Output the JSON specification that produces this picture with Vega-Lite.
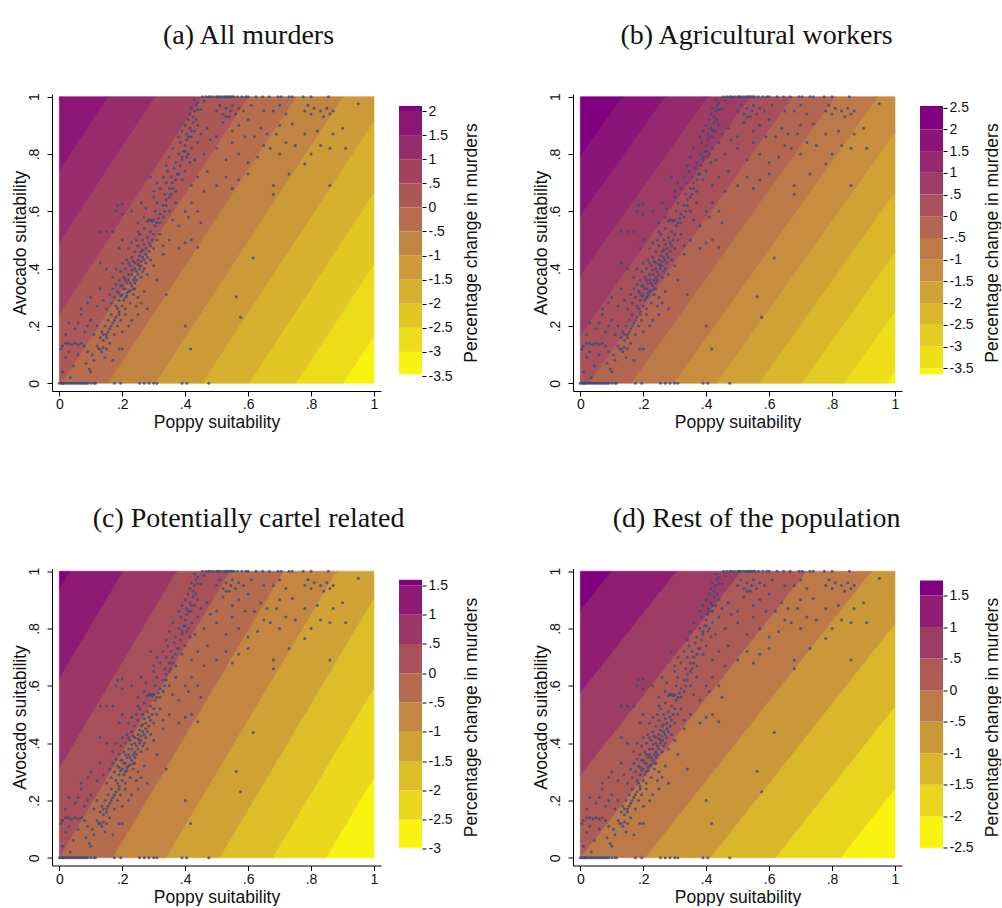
{
  "$schema": "https://vega.github.io/schema/vega-lite/v6.json",
  "padding": {"left": 11, "top": 21, "right": 0, "bottom": 0},
  "autosize": {"type": "pad"},
  "background": "white",
  "config": {
    "view": {"stroke": null},
    "axis": {"domainColor": "#000", "tickColor": "#000", "labelColor": "#111", "titleColor": "#111", "labelFont": "Liberation Sans", "titleFont": "Liberation Sans", "titleFontWeight": "normal", "labelFontSize": 14, "titleFontSize": 17.5, "grid": false},
    "title": {"font": "Liberation Serif", "fontSize": 28, "fontWeight": "normal", "color": "#111", "anchor": "middle"}
  },
  "datasets": {
    "pts": [
      {"x":0,"y":0},{"x":0.005,"y":0},{"x":0.01,"y":0},{"x":0.012,"y":0},{"x":0.015,"y":0},{"x":0.02,"y":0},{"x":0.025,"y":0},{"x":0.03,"y":0},{"x":0.035,"y":0},{"x":0.04,"y":0},{"x":0.045,"y":0},{"x":0.05,"y":0},{"x":0.055,"y":0},{"x":0.06,"y":0},{"x":0.065,"y":0},{"x":0.07,"y":0},{"x":0.075,"y":0},{"x":0.08,"y":0},{"x":0.085,"y":0},{"x":0.09,"y":0},{"x":0.1,"y":0},{"x":0.11,"y":0},{"x":0.115,"y":0},{"x":0.175,"y":0},{"x":0.195,"y":0},{"x":0.255,"y":0},{"x":0.27,"y":0},{"x":0.285,"y":0},{"x":0.3,"y":0},{"x":0.31,"y":0},{"x":0.39,"y":0},{"x":0.405,"y":0},{"x":0.475,"y":0},
      {"x":0.01,"y":0.04},{"x":0.02,"y":0.09},{"x":0.005,"y":0.12},{"x":0.01,"y":0.13},{"x":0.02,"y":0.14},{"x":0.03,"y":0.14},{"x":0.04,"y":0.135},{"x":0.05,"y":0.14},{"x":0.06,"y":0.135},{"x":0.07,"y":0.14},{"x":0.08,"y":0.13},{"x":0.03,"y":0.11},{"x":0.045,"y":0.06},{"x":0.06,"y":0.1},{"x":0.085,"y":0.07},{"x":0.095,"y":0.05},{"x":0.1,"y":0.04},{"x":0.09,"y":0.11},{"x":0.11,"y":0.08},{"x":0.12,"y":0.13},{"x":0.125,"y":0.12},{"x":0.13,"y":0.12},{"x":0.135,"y":0.11},{"x":0.14,"y":0.125},{"x":0.15,"y":0.12},{"x":0.145,"y":0.09},{"x":0.17,"y":0.08},{"x":0.19,"y":0.12},{"x":0.2,"y":0.12},{"x":0.16,"y":0.14},{"x":0.035,"y":0.02},{"x":0.105,"y":0.1},
      {"x":0.02,"y":0.17},{"x":0.05,"y":0.19},{"x":0.06,"y":0.21},{"x":0.08,"y":0.18},{"x":0.09,"y":0.2},{"x":0.1,"y":0.22},{"x":0.11,"y":0.17},{"x":0.13,"y":0.16},{"x":0.135,"y":0.18},{"x":0.14,"y":0.15},{"x":0.145,"y":0.2},{"x":0.15,"y":0.17},{"x":0.155,"y":0.22},{"x":0.16,"y":0.19},{"x":0.165,"y":0.24},{"x":0.17,"y":0.21},{"x":0.175,"y":0.17},{"x":0.18,"y":0.23},{"x":0.185,"y":0.2},{"x":0.19,"y":0.25},{"x":0.195,"y":0.22},{"x":0.2,"y":0.18},{"x":0.21,"y":0.24},{"x":0.22,"y":0.2},{"x":0.23,"y":0.22},{"x":0.25,"y":0.24},{"x":0.4,"y":0.2},{"x":0.12,"y":0.2},{"x":0.07,"y":0.24},{"x":0.03,"y":0.21},
      {"x":0.07,"y":0.26},{"x":0.09,"y":0.28},{"x":0.1,"y":0.3},{"x":0.12,"y":0.27},{"x":0.14,"y":0.29},{"x":0.15,"y":0.26},{"x":0.16,"y":0.31},{"x":0.165,"y":0.28},{"x":0.17,"y":0.33},{"x":0.175,"y":0.3},{"x":0.18,"y":0.27},{"x":0.185,"y":0.32},{"x":0.19,"y":0.29},{"x":0.195,"y":0.34},{"x":0.2,"y":0.31},{"x":0.2,"y":0.27},{"x":0.205,"y":0.33},{"x":0.21,"y":0.3},{"x":0.215,"y":0.35},{"x":0.22,"y":0.32},{"x":0.225,"y":0.28},{"x":0.23,"y":0.34},{"x":0.235,"y":0.31},{"x":0.24,"y":0.33},{"x":0.245,"y":0.27},{"x":0.25,"y":0.3},{"x":0.26,"y":0.28},{"x":0.27,"y":0.32},{"x":0.28,"y":0.26},{"x":0.34,"y":0.31},{"x":0.13,"y":0.33},{"x":0.18,"y":0.345},{"x":0.21,"y":0.26},{"x":0.19,"y":0.315},{"x":0.215,"y":0.305},{"x":0.225,"y":0.325},
      {"x":0.13,"y":0.42},{"x":0.17,"y":0.37},{"x":0.18,"y":0.4},{"x":0.19,"y":0.36},{"x":0.195,"y":0.39},{"x":0.2,"y":0.42},{"x":0.205,"y":0.37},{"x":0.21,"y":0.4},{"x":0.215,"y":0.43},{"x":0.22,"y":0.38},{"x":0.225,"y":0.41},{"x":0.23,"y":0.44},{"x":0.235,"y":0.36},{"x":0.24,"y":0.42},{"x":0.245,"y":0.39},{"x":0.25,"y":0.43},{"x":0.255,"y":0.41},{"x":0.26,"y":0.37},{"x":0.265,"y":0.44},{"x":0.27,"y":0.4},{"x":0.275,"y":0.42},{"x":0.28,"y":0.38},{"x":0.29,"y":0.43},{"x":0.3,"y":0.41},{"x":0.31,"y":0.36},{"x":0.33,"y":0.45},{"x":0.22,"y":0.42},{"x":0.235,"y":0.425},{"x":0.25,"y":0.415},{"x":0.26,"y":0.425},{"x":0.23,"y":0.395},{"x":0.21,"y":0.36},{"x":0.24,"y":0.37},{"x":0.15,"y":0.4},
      {"x":0.13,"y":0.53},{"x":0.15,"y":0.53},{"x":0.17,"y":0.53},{"x":0.2,"y":0.5},{"x":0.22,"y":0.47},{"x":0.23,"y":0.49},{"x":0.24,"y":0.46},{"x":0.245,"y":0.5},{"x":0.25,"y":0.48},{"x":0.255,"y":0.52},{"x":0.26,"y":0.46},{"x":0.265,"y":0.5},{"x":0.27,"y":0.54},{"x":0.275,"y":0.47},{"x":0.28,"y":0.51},{"x":0.285,"y":0.49},{"x":0.29,"y":0.53},{"x":0.3,"y":0.47},{"x":0.31,"y":0.5},{"x":0.32,"y":0.52},{"x":0.33,"y":0.48},{"x":0.35,"y":0.5},{"x":0.38,"y":0.47},{"x":0.4,"y":0.49},{"x":0.42,"y":0.5},{"x":0.44,"y":0.475},{"x":0.19,"y":0.47},{"x":0.25,"y":0.53},{"x":0.27,"y":0.485},
      {"x":0.18,"y":0.6},{"x":0.185,"y":0.62},{"x":0.2,"y":0.59},{"x":0.2,"y":0.625},{"x":0.25,"y":0.56},{"x":0.27,"y":0.58},{"x":0.275,"y":0.61},{"x":0.28,"y":0.565},{"x":0.285,"y":0.57},{"x":0.29,"y":0.57},{"x":0.295,"y":0.565},{"x":0.3,"y":0.57},{"x":0.305,"y":0.6},{"x":0.31,"y":0.63},{"x":0.32,"y":0.59},{"x":0.33,"y":0.62},{"x":0.34,"y":0.64},{"x":0.35,"y":0.6},{"x":0.36,"y":0.57},{"x":0.37,"y":0.63},{"x":0.38,"y":0.55},{"x":0.4,"y":0.6},{"x":0.41,"y":0.58},{"x":0.42,"y":0.63},{"x":0.44,"y":0.6},{"x":0.45,"y":0.56},{"x":0.23,"y":0.6},{"x":0.26,"y":0.63},{"x":0.3,"y":0.65},
      {"x":0.3,"y":0.67},{"x":0.31,"y":0.7},{"x":0.32,"y":0.68},{"x":0.33,"y":0.72},{"x":0.335,"y":0.66},{"x":0.34,"y":0.7},{"x":0.345,"y":0.74},{"x":0.35,"y":0.68},{"x":0.355,"y":0.72},{"x":0.36,"y":0.7},{"x":0.365,"y":0.75},{"x":0.37,"y":0.67},{"x":0.38,"y":0.73},{"x":0.39,"y":0.71},{"x":0.4,"y":0.74},{"x":0.42,"y":0.69},{"x":0.44,"y":0.72},{"x":0.46,"y":0.67},{"x":0.5,"y":0.69},{"x":0.53,"y":0.72},{"x":0.55,"y":0.68},{"x":0.57,"y":0.71},{"x":0.6,"y":0.73},{"x":0.68,"y":0.69},{"x":0.68,"y":0.66},{"x":0.73,"y":0.73},{"x":0.86,"y":0.69},{"x":0.29,"y":0.72},{"x":0.47,"y":0.74},
      {"x":0.34,"y":0.76},{"x":0.35,"y":0.79},{"x":0.36,"y":0.82},{"x":0.37,"y":0.77},{"x":0.38,"y":0.8},{"x":0.385,"y":0.84},{"x":0.39,"y":0.78},{"x":0.395,"y":0.81},{"x":0.4,"y":0.83},{"x":0.405,"y":0.79},{"x":0.41,"y":0.8},{"x":0.415,"y":0.77},{"x":0.42,"y":0.82},{"x":0.43,"y":0.78},{"x":0.44,"y":0.84},{"x":0.46,"y":0.8},{"x":0.5,"y":0.82},{"x":0.53,"y":0.78},{"x":0.57,"y":0.8},{"x":0.6,"y":0.77},{"x":0.63,"y":0.79},{"x":0.65,"y":0.83},{"x":0.67,"y":0.82},{"x":0.7,"y":0.8},{"x":0.72,"y":0.84},{"x":0.75,"y":0.83},{"x":0.78,"y":0.765},{"x":0.8,"y":0.8},{"x":0.83,"y":0.83},{"x":0.86,"y":0.82},{"x":0.91,"y":0.82},{"x":0.55,"y":0.84},{"x":0.48,"y":0.85},
      {"x":0.38,"y":0.86},{"x":0.39,"y":0.88},{"x":0.4,"y":0.9},{"x":0.405,"y":0.87},{"x":0.41,"y":0.92},{"x":0.415,"y":0.89},{"x":0.42,"y":0.86},{"x":0.425,"y":0.91},{"x":0.43,"y":0.88},{"x":0.44,"y":0.9},{"x":0.45,"y":0.87},{"x":0.47,"y":0.89},{"x":0.5,"y":0.86},{"x":0.52,"y":0.91},{"x":0.55,"y":0.88},{"x":0.57,"y":0.9},{"x":0.59,"y":0.86},{"x":0.62,"y":0.86},{"x":0.64,"y":0.89},{"x":0.66,"y":0.87},{"x":0.69,"y":0.87},{"x":0.7,"y":0.9},{"x":0.74,"y":0.905},{"x":0.78,"y":0.87},{"x":0.82,"y":0.88},{"x":0.87,"y":0.87},{"x":0.9,"y":0.89},{"x":0.6,"y":0.92},{"x":0.53,"y":0.93},
      {"x":0.415,"y":0.94},{"x":0.42,"y":0.96},{"x":0.43,"y":0.95},{"x":0.435,"y":0.97},{"x":0.44,"y":0.98},{"x":0.45,"y":0.955},{"x":0.5,"y":0.95},{"x":0.51,"y":0.97},{"x":0.52,"y":0.94},{"x":0.53,"y":0.96},{"x":0.54,"y":0.93},{"x":0.545,"y":0.95},{"x":0.55,"y":0.97},{"x":0.56,"y":0.94},{"x":0.57,"y":0.96},{"x":0.585,"y":0.95},{"x":0.61,"y":0.97},{"x":0.65,"y":0.95},{"x":0.68,"y":0.95},{"x":0.7,"y":0.97},{"x":0.78,"y":0.95},{"x":0.79,"y":0.97},{"x":0.8,"y":0.94},{"x":0.81,"y":0.96},{"x":0.83,"y":0.95},{"x":0.84,"y":0.93},{"x":0.85,"y":0.96},{"x":0.86,"y":0.94},{"x":0.87,"y":0.95},{"x":0.95,"y":0.975},{"x":0.46,"y":0.985},{"x":0.72,"y":0.94},
      {"x":0.455,"y":1},{"x":0.466,"y":1},{"x":0.475,"y":1},{"x":0.481,"y":1},{"x":0.49,"y":1},{"x":0.5,"y":1},{"x":0.505,"y":1},{"x":0.51,"y":1},{"x":0.518,"y":1},{"x":0.525,"y":1},{"x":0.53,"y":1},{"x":0.535,"y":1},{"x":0.54,"y":1},{"x":0.545,"y":1},{"x":0.55,"y":1},{"x":0.555,"y":1},{"x":0.566,"y":1},{"x":0.58,"y":1},{"x":0.593,"y":1},{"x":0.6,"y":1},{"x":0.625,"y":1},{"x":0.646,"y":1},{"x":0.667,"y":1},{"x":0.695,"y":1},{"x":0.705,"y":1},{"x":0.73,"y":1},{"x":0.74,"y":1},{"x":0.775,"y":1},{"x":0.8,"y":1},{"x":0.855,"y":1},
      {"x":0.616,"y":0.437},{"x":0.562,"y":0.302},{"x":0.576,"y":0.23},{"x":0.417,"y":0.12},
      {"x":0.205,"y":0.29},{"x":0.215,"y":0.315},{"x":0.195,"y":0.305},{"x":0.225,"y":0.35},{"x":0.235,"y":0.33},{"x":0.24,"y":0.35},{"x":0.245,"y":0.36},{"x":0.25,"y":0.38},{"x":0.255,"y":0.4},{"x":0.26,"y":0.41},{"x":0.265,"y":0.39},{"x":0.27,"y":0.43},{"x":0.275,"y":0.45},{"x":0.28,"y":0.44},{"x":0.285,"y":0.46},{"x":0.29,"y":0.48},{"x":0.295,"y":0.5},{"x":0.3,"y":0.52},{"x":0.305,"y":0.55},{"x":0.31,"y":0.56},{"x":0.315,"y":0.575},{"x":0.32,"y":0.56},{"x":0.33,"y":0.58},{"x":0.335,"y":0.6},{"x":0.34,"y":0.62},{"x":0.35,"y":0.65},{"x":0.355,"y":0.66},{"x":0.36,"y":0.68},{"x":0.37,"y":0.71},{"x":0.375,"y":0.73},{"x":0.385,"y":0.76},{"x":0.39,"y":0.79},{"x":0.4,"y":0.81},{"x":0.405,"y":0.85},{"x":0.41,"y":0.86},{"x":0.42,"y":0.88},{"x":0.425,"y":0.93},{"x":0.435,"y":0.92},{"x":0.44,"y":0.955},{"x":0.43,"y":0.99},{"x":0.185,"y":0.26},{"x":0.19,"y":0.24},{"x":0.175,"y":0.22},{"x":0.165,"y":0.2},{"x":0.155,"y":0.18},{"x":0.15,"y":0.16},{"x":0.14,"y":0.17},{"x":0.2,"y":0.34},{"x":0.21,"y":0.33},{"x":0.22,"y":0.36},{"x":0.23,"y":0.38},{"x":0.24,"y":0.4},{"x":0.255,"y":0.445},{"x":0.265,"y":0.465}
    ],
    "surf": [
      {"p":"a","lev":-3.5,"x":0.9015,"y":0,"y2":0},{"p":"a","lev":-3.5,"x":1,"y":0,"y2":0.165},
      {"p":"a","lev":-3,"x":0.7522,"y":0,"y2":0},{"p":"a","lev":-3,"x":0.9015,"y":0,"y2":0.25},{"p":"a","lev":-3,"x":1,"y":0.165,"y2":0.415},
      {"p":"a","lev":-2.5,"x":0.603,"y":0,"y2":0},{"p":"a","lev":-2.5,"x":0.7522,"y":0,"y2":0.25},{"p":"a","lev":-2.5,"x":1,"y":0.415,"y2":0.665},
      {"p":"a","lev":-2,"x":0.4537,"y":0,"y2":0},{"p":"a","lev":-2,"x":0.603,"y":0,"y2":0.25},{"p":"a","lev":-2,"x":1,"y":0.665,"y2":0.915},
      {"p":"a","lev":-1.5,"x":0.3045,"y":0,"y2":0},{"p":"a","lev":-1.5,"x":0.4537,"y":0,"y2":0.25},{"p":"a","lev":-1.5,"x":0.9015,"y":0.75,"y2":1},{"p":"a","lev":-1.5,"x":1,"y":0.915,"y2":1},
      {"p":"a","lev":-1,"x":0.1552,"y":0,"y2":0},{"p":"a","lev":-1,"x":0.3045,"y":0,"y2":0.25},{"p":"a","lev":-1,"x":0.7522,"y":0.75,"y2":1},{"p":"a","lev":-1,"x":0.9015,"y":1,"y2":1},
      {"p":"a","lev":-0.5,"x":0.006,"y":0,"y2":0},{"p":"a","lev":-0.5,"x":0.1552,"y":0,"y2":0.25},{"p":"a","lev":-0.5,"x":0.603,"y":0.75,"y2":1},{"p":"a","lev":-0.5,"x":0.7522,"y":1,"y2":1},
      {"p":"a","lev":0,"x":0,"y":0,"y2":0.24},{"p":"a","lev":0,"x":0.006,"y":0,"y2":0.25},{"p":"a","lev":0,"x":0.4537,"y":0.75,"y2":1},{"p":"a","lev":0,"x":0.603,"y":1,"y2":1},
      {"p":"a","lev":0.5,"x":0,"y":0.24,"y2":0.49},{"p":"a","lev":0.5,"x":0.3045,"y":0.75,"y2":1},{"p":"a","lev":0.5,"x":0.4537,"y":1,"y2":1},
      {"p":"a","lev":1,"x":0,"y":0.49,"y2":0.74},{"p":"a","lev":1,"x":0.1552,"y":0.75,"y2":1},{"p":"a","lev":1,"x":0.3045,"y":1,"y2":1},
      {"p":"a","lev":1.5,"x":0,"y":0.74,"y2":0.99},{"p":"a","lev":1.5,"x":0.006,"y":0.75,"y2":1},{"p":"a","lev":1.5,"x":0.1552,"y":1,"y2":1},
      {"p":"a","lev":2,"x":0,"y":0.99,"y2":1},{"p":"a","lev":2,"x":0.006,"y":1,"y2":1},

      {"p":"b","lev":-4,"x":0.97297,"y":0,"y2":0},{"p":"b","lev":-4,"x":1,"y":0,"y2":0.04167},
      {"p":"b","lev":-3.5,"x":0.83784,"y":0,"y2":0},{"p":"b","lev":-3.5,"x":0.97297,"y":0,"y2":0.20833},{"p":"b","lev":-3.5,"x":1,"y":0.04167,"y2":0.25},
      {"p":"b","lev":-3,"x":0.7027,"y":0,"y2":0},{"p":"b","lev":-3,"x":0.83784,"y":0,"y2":0.20833},{"p":"b","lev":-3,"x":1,"y":0.25,"y2":0.45833},
      {"p":"b","lev":-2.5,"x":0.56757,"y":0,"y2":0},{"p":"b","lev":-2.5,"x":0.7027,"y":0,"y2":0.20833},{"p":"b","lev":-2.5,"x":1,"y":0.45833,"y2":0.66667},
      {"p":"b","lev":-2,"x":0.43243,"y":0,"y2":0},{"p":"b","lev":-2,"x":0.56757,"y":0,"y2":0.20833},{"p":"b","lev":-2,"x":1,"y":0.66667,"y2":0.875},
      {"p":"b","lev":-1.5,"x":0.2973,"y":0,"y2":0},{"p":"b","lev":-1.5,"x":0.43243,"y":0,"y2":0.20833},{"p":"b","lev":-1.5,"x":0.94595,"y":0.79167,"y2":1},{"p":"b","lev":-1.5,"x":1,"y":0.875,"y2":1},
      {"p":"b","lev":-1,"x":0.16216,"y":0,"y2":0},{"p":"b","lev":-1,"x":0.2973,"y":0,"y2":0.20833},{"p":"b","lev":-1,"x":0.81081,"y":0.79167,"y2":1},{"p":"b","lev":-1,"x":0.94595,"y":1,"y2":1},
      {"p":"b","lev":-0.5,"x":0.02703,"y":0,"y2":0},{"p":"b","lev":-0.5,"x":0.16216,"y":0,"y2":0.20833},{"p":"b","lev":-0.5,"x":0.67568,"y":0.79167,"y2":1},{"p":"b","lev":-0.5,"x":0.81081,"y":1,"y2":1},
      {"p":"b","lev":0,"x":0,"y":0,"y2":0.16667},{"p":"b","lev":0,"x":0.02703,"y":0,"y2":0.20833},{"p":"b","lev":0,"x":0.54054,"y":0.79167,"y2":1},{"p":"b","lev":0,"x":0.67568,"y":1,"y2":1},
      {"p":"b","lev":0.5,"x":0,"y":0.16667,"y2":0.375},{"p":"b","lev":0.5,"x":0.40541,"y":0.79167,"y2":1},{"p":"b","lev":0.5,"x":0.54054,"y":1,"y2":1},
      {"p":"b","lev":1,"x":0,"y":0.375,"y2":0.58333},{"p":"b","lev":1,"x":0.27027,"y":0.79167,"y2":1},{"p":"b","lev":1,"x":0.40541,"y":1,"y2":1},
      {"p":"b","lev":1.5,"x":0,"y":0.58333,"y2":0.79167},{"p":"b","lev":1.5,"x":0.13514,"y":0.79167,"y2":1},{"p":"b","lev":1.5,"x":0.27027,"y":1,"y2":1},
      {"p":"b","lev":2,"x":0,"y":0.79167,"y2":1},{"p":"b","lev":2,"x":0.13514,"y":1,"y2":1},

      {"p":"c","lev":-3,"x":0.84746,"y":0,"y2":0},{"p":"c","lev":-3,"x":1,"y":0,"y2":0.28125},
      {"p":"c","lev":-2.5,"x":0.67797,"y":0,"y2":0},{"p":"c","lev":-2.5,"x":0.84746,"y":0,"y2":0.3125},{"p":"c","lev":-2.5,"x":1,"y":0.28125,"y2":0.59375},
      {"p":"c","lev":-2,"x":0.50847,"y":0,"y2":0},{"p":"c","lev":-2,"x":0.67797,"y":0,"y2":0.3125},{"p":"c","lev":-2,"x":1,"y":0.59375,"y2":0.90625},
      {"p":"c","lev":-1.5,"x":0.33898,"y":0,"y2":0},{"p":"c","lev":-1.5,"x":0.50847,"y":0,"y2":0.3125},{"p":"c","lev":-1.5,"x":0.88136,"y":0.6875,"y2":1},{"p":"c","lev":-1.5,"x":1,"y":0.90625,"y2":1},
      {"p":"c","lev":-1,"x":0.16949,"y":0,"y2":0},{"p":"c","lev":-1,"x":0.33898,"y":0,"y2":0.3125},{"p":"c","lev":-1,"x":0.71186,"y":0.6875,"y2":1},{"p":"c","lev":-1,"x":0.88136,"y":1,"y2":1},
      {"p":"c","lev":-0.5,"x":0,"y":0,"y2":0},{"p":"c","lev":-0.5,"x":0.16949,"y":0,"y2":0.3125},{"p":"c","lev":-0.5,"x":0.54237,"y":0.6875,"y2":1},{"p":"c","lev":-0.5,"x":0.71186,"y":1,"y2":1},
      {"p":"c","lev":0,"x":0,"y":0,"y2":0.3125},{"p":"c","lev":0,"x":0.37288,"y":0.6875,"y2":1},{"p":"c","lev":0,"x":0.54237,"y":1,"y2":1},
      {"p":"c","lev":0.5,"x":0,"y":0.3125,"y2":0.625},{"p":"c","lev":0.5,"x":0.20339,"y":0.6875,"y2":1},{"p":"c","lev":0.5,"x":0.37288,"y":1,"y2":1},
      {"p":"c","lev":1,"x":0,"y":0.625,"y2":0.9375},{"p":"c","lev":1,"x":0.0339,"y":0.6875,"y2":1},{"p":"c","lev":1,"x":0.20339,"y":1,"y2":1},
      {"p":"c","lev":1.5,"x":0,"y":0.9375,"y2":1},{"p":"c","lev":1.5,"x":0.0339,"y":1,"y2":1},

      {"p":"d","lev":-2.5,"x":0.82645,"y":0,"y2":0},{"p":"d","lev":-2.5,"x":1,"y":0,"y2":0.24138},
      {"p":"d","lev":-2,"x":0.61983,"y":0,"y2":0},{"p":"d","lev":-2,"x":0.82645,"y":0,"y2":0.28736},{"p":"d","lev":-2,"x":1,"y":0.24138,"y2":0.52874},
      {"p":"d","lev":-1.5,"x":0.41322,"y":0,"y2":0},{"p":"d","lev":-1.5,"x":0.61983,"y":0,"y2":0.28736},{"p":"d","lev":-1.5,"x":1,"y":0.52874,"y2":0.81609},
      {"p":"d","lev":-1,"x":0.20661,"y":0,"y2":0},{"p":"d","lev":-1,"x":0.41322,"y":0,"y2":0.28736},{"p":"d","lev":-1,"x":0.92562,"y":0.71264,"y2":1},{"p":"d","lev":-1,"x":1,"y":0.81609,"y2":1},
      {"p":"d","lev":-0.5,"x":0,"y":0,"y2":0},{"p":"d","lev":-0.5,"x":0.20661,"y":0,"y2":0.28736},{"p":"d","lev":-0.5,"x":0.71901,"y":0.71264,"y2":1},{"p":"d","lev":-0.5,"x":0.92562,"y":1,"y2":1},
      {"p":"d","lev":0,"x":0,"y":0,"y2":0.28736},{"p":"d","lev":0,"x":0.5124,"y":0.71264,"y2":1},{"p":"d","lev":0,"x":0.71901,"y":1,"y2":1},
      {"p":"d","lev":0.5,"x":0,"y":0.28736,"y2":0.57471},{"p":"d","lev":0.5,"x":0.30579,"y":0.71264,"y2":1},{"p":"d","lev":0.5,"x":0.5124,"y":1,"y2":1},
      {"p":"d","lev":1,"x":0,"y":0.57471,"y2":0.86207},{"p":"d","lev":1,"x":0.09917,"y":0.71264,"y2":1},{"p":"d","lev":1,"x":0.30579,"y":1,"y2":1},
      {"p":"d","lev":1.5,"x":0,"y":0.86207,"y2":1},{"p":"d","lev":1.5,"x":0.09917,"y":1,"y2":1}
    ],
    "bar": [
      {"p":"a","lev":-3.5,"lo":-3.464,"hi":-3},{"p":"a","lev":-3,"lo":-3,"hi":-2.5},{"p":"a","lev":-2.5,"lo":-2.5,"hi":-2},{"p":"a","lev":-2,"lo":-2,"hi":-1.5},{"p":"a","lev":-1.5,"lo":-1.5,"hi":-1},{"p":"a","lev":-1,"lo":-1,"hi":-0.5},{"p":"a","lev":-0.5,"lo":-0.5,"hi":0},{"p":"a","lev":0,"lo":0,"hi":0.5},{"p":"a","lev":0.5,"lo":0.5,"hi":1},{"p":"a","lev":1,"lo":1,"hi":1.5},{"p":"a","lev":1.5,"lo":1.5,"hi":2},{"p":"a","lev":2,"lo":2,"hi":2.104},
      {"p":"b","lev":-4,"lo":-3.638,"hi":-3.5},{"p":"b","lev":-3.5,"lo":-3.5,"hi":-3},{"p":"b","lev":-3,"lo":-3,"hi":-2.5},{"p":"b","lev":-2.5,"lo":-2.5,"hi":-2},{"p":"b","lev":-2,"lo":-2,"hi":-1.5},{"p":"b","lev":-1.5,"lo":-1.5,"hi":-1},{"p":"b","lev":-1,"lo":-1,"hi":-0.5},{"p":"b","lev":-0.5,"lo":-0.5,"hi":0},{"p":"b","lev":0,"lo":0,"hi":0.5},{"p":"b","lev":0.5,"lo":0.5,"hi":1},{"p":"b","lev":1,"lo":1,"hi":1.5},{"p":"b","lev":1.5,"lo":1.5,"hi":2},{"p":"b","lev":2,"lo":2,"hi":2.539},
      {"p":"c","lev":-3,"lo":-2.982,"hi":-2.5},{"p":"c","lev":-2.5,"lo":-2.5,"hi":-2},{"p":"c","lev":-2,"lo":-2,"hi":-1.5},{"p":"c","lev":-1.5,"lo":-1.5,"hi":-1},{"p":"c","lev":-1,"lo":-1,"hi":-0.5},{"p":"c","lev":-0.5,"lo":-0.5,"hi":0},{"p":"c","lev":0,"lo":0,"hi":0.5},{"p":"c","lev":0.5,"lo":0.5,"hi":1},{"p":"c","lev":1,"lo":1,"hi":1.5},{"p":"c","lev":1.5,"lo":1.5,"hi":1.597},
      {"p":"d","lev":-2.5,"lo":-2.5,"hi":-2},{"p":"d","lev":-2,"lo":-2,"hi":-1.5},{"p":"d","lev":-1.5,"lo":-1.5,"hi":-1},{"p":"d","lev":-1,"lo":-1,"hi":-0.5},{"p":"d","lev":-0.5,"lo":-0.5,"hi":0},{"p":"d","lev":0,"lo":0,"hi":0.5},{"p":"d","lev":0.5,"lo":0.5,"hi":1},{"p":"d","lev":1,"lo":1,"hi":1.5},{"p":"d","lev":1.5,"lo":1.5,"hi":1.738}
    ]
  },
  "spacing": 73.5,
  "resolve": {"scale": {"color": "independent", "stroke": "independent"}},
  "vconcat": [
    {
      "spacing": 52,
      "resolve": {"scale": {"color": "independent", "stroke": "independent"}},
      "hconcat": [
        {
          "title": {"text": "(a) All murders", "offset": 43, "dx": 3},
          "bounds": "flush", "spacing": 18,
          "resolve": {"scale": {"color": "independent", "stroke": "independent"}},
          "hconcat": [
            {"width": 329, "height": 297, "layer": [
              {"data": {"name": "surf"}, "transform": [{"filter": "datum.p == 'a'"}],
               "mark": {"type": "area", "strokeWidth": 0.6},
               "encoding": {
                 "x": {"field": "x", "type": "quantitative", "scale": {"domain": [-0.0232, 1.0222], "nice": false, "zero": false},
                       "axis": {"values": [0, 0.2, 0.4, 0.6, 0.8, 1], "labelExpr": "(datum.value < 0 ? '-' : '') + replace(format(abs(datum.value), '~g'), '0.', '.')", "title": "Poppy suitability", "tickSize": 5, "labelPadding": 1.5, "titlePadding": 2, "labelFlush": false}},
                 "y": {"field": "y", "type": "quantitative", "stack": null, "scale": {"domain": [-0.0269, 1.0094], "nice": false, "zero": false},
                       "axis": {"values": [0, 0.2, 0.4, 0.6, 0.8, 1], "labelExpr": "(datum.value < 0 ? '-' : '') + replace(format(abs(datum.value), '~g'), '0.', '.')", "title": "Avocado suitability", "labelAngle": 270, "labelAlign": "center", "labelBaseline": "bottom", "tickSize": 5, "labelPadding": 5.7, "titlePadding": -2.2, "labelFlush": false}},
                 "y2": {"field": "y2"},
                 "detail": {"field": "lev", "type": "quantitative"},
                 "color": {"field": "lev", "type": "quantitative", "scale": {"domain": [-3.5, 2], "range": ["#f8f30f", "#800080"], "interpolate": "rgb"}, "legend": null},
                 "stroke": {"field": "lev", "type": "quantitative", "scale": {"domain": [-3.5, 2], "range": ["#f8f30f", "#800080"], "interpolate": "rgb"}, "legend": null}
               }},
              {"data": {"name": "pts"}, "mark": {"type": "circle", "size": 9, "color": "#3b4a7e", "opacity": 0.8},
               "encoding": {"x": {"field": "x", "type": "quantitative"}, "y": {"field": "y", "type": "quantitative"}}}
            ]},
            {"width": 23, "height": 297, "data": {"name": "bar"}, "transform": [{"filter": "datum.p == 'a'"}],
             "mark": {"type": "rect"},
             "encoding": {
               "y": {"field": "lo", "type": "quantitative", "scale": {"domain": [-3.811, 2.353], "nice": false, "zero": false},
                     "axis": {"orient": "right", "values": [-3.5, -3, -2.5, -2, -1.5, -1, -0.5, 0, 0.5, 1, 1.5, 2], "labelExpr": "(datum.value < 0 ? '-' : '') + replace(format(abs(datum.value), '~g'), '0.', '.')", "title": "Percentage change in murders", "titleAngle": 270, "titleBaseline": "top", "domain": false, "tickSize": 4, "labelPadding": 2, "labelFontSize": 14, "titlePadding": 10, "labelFlush": false, "labelOverlap": false}},
               "y2": {"field": "hi"},
               "color": {"field": "lev", "type": "quantitative", "scale": {"domain": [-3.5, 2], "range": ["#f8f30f", "#800080"], "interpolate": "rgb"}, "legend": null}
             }}
          ]
        },
        {
          "title": {"text": "(b) Agricultural workers", "offset": 43, "dx": -10},
          "bounds": "flush", "spacing": 18,
          "resolve": {"scale": {"color": "independent", "stroke": "independent"}},
          "hconcat": [
            {"width": 329, "height": 297, "layer": [
              {"data": {"name": "surf"}, "transform": [{"filter": "datum.p == 'b'"}],
               "mark": {"type": "area", "strokeWidth": 0.6},
               "encoding": {
                 "x": {"field": "x", "type": "quantitative", "scale": {"domain": [-0.0232, 1.0222], "nice": false, "zero": false},
                       "axis": {"values": [0, 0.2, 0.4, 0.6, 0.8, 1], "labelExpr": "(datum.value < 0 ? '-' : '') + replace(format(abs(datum.value), '~g'), '0.', '.')", "title": "Poppy suitability", "tickSize": 5, "labelPadding": 1.5, "titlePadding": 2, "labelFlush": false}},
                 "y": {"field": "y", "type": "quantitative", "stack": null, "scale": {"domain": [-0.0269, 1.0094], "nice": false, "zero": false},
                       "axis": {"values": [0, 0.2, 0.4, 0.6, 0.8, 1], "labelExpr": "(datum.value < 0 ? '-' : '') + replace(format(abs(datum.value), '~g'), '0.', '.')", "title": "Avocado suitability", "labelAngle": 270, "labelAlign": "center", "labelBaseline": "bottom", "tickSize": 5, "labelPadding": 5.7, "titlePadding": -2.2, "labelFlush": false}},
                 "y2": {"field": "y2"},
                 "detail": {"field": "lev", "type": "quantitative"},
                 "color": {"field": "lev", "type": "quantitative", "scale": {"domain": [-4, 2], "range": ["#f8f30f", "#800080"], "interpolate": "rgb"}, "legend": null},
                 "stroke": {"field": "lev", "type": "quantitative", "scale": {"domain": [-4, 2], "range": ["#f8f30f", "#800080"], "interpolate": "rgb"}, "legend": null}
               }},
              {"data": {"name": "pts"}, "mark": {"type": "circle", "size": 9, "color": "#3b4a7e", "opacity": 0.8},
               "encoding": {"x": {"field": "x", "type": "quantitative"}, "y": {"field": "y", "type": "quantitative"}}}
            ]},
            {"width": 23, "height": 297, "data": {"name": "bar"}, "transform": [{"filter": "datum.p == 'b'"}],
             "mark": {"type": "rect"},
             "encoding": {
               "y": {"field": "lo", "type": "quantitative", "scale": {"domain": [-4.023, 2.815], "nice": false, "zero": false},
                     "axis": {"orient": "right", "values": [-3.5, -3, -2.5, -2, -1.5, -1, -0.5, 0, 0.5, 1, 1.5, 2, 2.5], "labelExpr": "(datum.value < 0 ? '-' : '') + replace(format(abs(datum.value), '~g'), '0.', '.')", "title": "Percentage change in murders", "titleAngle": 270, "titleBaseline": "top", "domain": false, "tickSize": 4, "labelPadding": 2, "labelFontSize": 14, "titlePadding": 10, "labelFlush": false, "labelOverlap": false}},
               "y2": {"field": "hi"},
               "color": {"field": "lev", "type": "quantitative", "scale": {"domain": [-4, 2], "range": ["#f8f30f", "#800080"], "interpolate": "rgb"}, "legend": null}
             }}
          ]
        }
      ]
    },
    {
      "spacing": 52,
      "resolve": {"scale": {"color": "independent", "stroke": "independent"}},
      "hconcat": [
        {
          "title": {"text": "(c) Potentially cartel related", "offset": 34, "dx": 3},
          "bounds": "flush", "spacing": 18,
          "resolve": {"scale": {"color": "independent", "stroke": "independent"}},
          "hconcat": [
            {"width": 329, "height": 297, "layer": [
              {"data": {"name": "surf"}, "transform": [{"filter": "datum.p == 'c'"}],
               "mark": {"type": "area", "strokeWidth": 0.6},
               "encoding": {
                 "x": {"field": "x", "type": "quantitative", "scale": {"domain": [-0.0232, 1.0222], "nice": false, "zero": false},
                       "axis": {"values": [0, 0.2, 0.4, 0.6, 0.8, 1], "labelExpr": "(datum.value < 0 ? '-' : '') + replace(format(abs(datum.value), '~g'), '0.', '.')", "title": "Poppy suitability", "tickSize": 5, "labelPadding": 1.5, "titlePadding": 2, "labelFlush": false}},
                 "y": {"field": "y", "type": "quantitative", "stack": null, "scale": {"domain": [-0.0269, 1.0094], "nice": false, "zero": false},
                       "axis": {"values": [0, 0.2, 0.4, 0.6, 0.8, 1], "labelExpr": "(datum.value < 0 ? '-' : '') + replace(format(abs(datum.value), '~g'), '0.', '.')", "title": "Avocado suitability", "labelAngle": 270, "labelAlign": "center", "labelBaseline": "bottom", "tickSize": 5, "labelPadding": 5.7, "titlePadding": -2.2, "labelFlush": false}},
                 "y2": {"field": "y2"},
                 "detail": {"field": "lev", "type": "quantitative"},
                 "color": {"field": "lev", "type": "quantitative", "scale": {"domain": [-3, 1.5], "range": ["#f8f30f", "#800080"], "interpolate": "rgb"}, "legend": null},
                 "stroke": {"field": "lev", "type": "quantitative", "scale": {"domain": [-3, 1.5], "range": ["#f8f30f", "#800080"], "interpolate": "rgb"}, "legend": null}
               }},
              {"data": {"name": "pts"}, "mark": {"type": "circle", "size": 9, "color": "#3b4a7e", "opacity": 0.8},
               "encoding": {"x": {"field": "x", "type": "quantitative"}, "y": {"field": "y", "type": "quantitative"}}}
            ]},
            {"width": 23, "height": 297, "data": {"name": "bar"}, "transform": [{"filter": "datum.p == 'c'"}],
             "mark": {"type": "rect"},
             "encoding": {
               "y": {"field": "lo", "type": "quantitative", "scale": {"domain": [-3.285, 1.79], "nice": false, "zero": false},
                     "axis": {"orient": "right", "values": [-3, -2.5, -2, -1.5, -1, -0.5, 0, 0.5, 1, 1.5], "labelExpr": "(datum.value < 0 ? '-' : '') + replace(format(abs(datum.value), '~g'), '0.', '.')", "title": "Percentage change in murders", "titleAngle": 270, "titleBaseline": "top", "domain": false, "tickSize": 4, "labelPadding": 2, "labelFontSize": 14, "titlePadding": 10, "labelFlush": false, "labelOverlap": false}},
               "y2": {"field": "hi"},
               "color": {"field": "lev", "type": "quantitative", "scale": {"domain": [-3, 1.5], "range": ["#f8f30f", "#800080"], "interpolate": "rgb"}, "legend": null}
             }}
          ]
        },
        {
          "title": {"text": "(d) Rest of the population", "offset": 34, "dx": -10},
          "bounds": "flush", "spacing": 18,
          "resolve": {"scale": {"color": "independent", "stroke": "independent"}},
          "hconcat": [
            {"width": 329, "height": 297, "layer": [
              {"data": {"name": "surf"}, "transform": [{"filter": "datum.p == 'd'"}],
               "mark": {"type": "area", "strokeWidth": 0.6},
               "encoding": {
                 "x": {"field": "x", "type": "quantitative", "scale": {"domain": [-0.0232, 1.0222], "nice": false, "zero": false},
                       "axis": {"values": [0, 0.2, 0.4, 0.6, 0.8, 1], "labelExpr": "(datum.value < 0 ? '-' : '') + replace(format(abs(datum.value), '~g'), '0.', '.')", "title": "Poppy suitability", "tickSize": 5, "labelPadding": 1.5, "titlePadding": 2, "labelFlush": false}},
                 "y": {"field": "y", "type": "quantitative", "stack": null, "scale": {"domain": [-0.0269, 1.0094], "nice": false, "zero": false},
                       "axis": {"values": [0, 0.2, 0.4, 0.6, 0.8, 1], "labelExpr": "(datum.value < 0 ? '-' : '') + replace(format(abs(datum.value), '~g'), '0.', '.')", "title": "Avocado suitability", "labelAngle": 270, "labelAlign": "center", "labelBaseline": "bottom", "tickSize": 5, "labelPadding": 5.7, "titlePadding": -2.2, "labelFlush": false}},
                 "y2": {"field": "y2"},
                 "detail": {"field": "lev", "type": "quantitative"},
                 "color": {"field": "lev", "type": "quantitative", "scale": {"domain": [-2.5, 1.5], "range": ["#f8f30f", "#800080"], "interpolate": "rgb"}, "legend": null},
                 "stroke": {"field": "lev", "type": "quantitative", "scale": {"domain": [-2.5, 1.5], "range": ["#f8f30f", "#800080"], "interpolate": "rgb"}, "legend": null}
               }},
              {"data": {"name": "pts"}, "mark": {"type": "circle", "size": 9, "color": "#3b4a7e", "opacity": 0.8},
               "encoding": {"x": {"field": "x", "type": "quantitative"}, "y": {"field": "y", "type": "quantitative"}}}
            ]},
            {"width": 23, "height": 297, "data": {"name": "bar"}, "transform": [{"filter": "datum.p == 'd'"}],
             "mark": {"type": "rect"},
             "encoding": {
               "y": {"field": "lo", "type": "quantitative", "scale": {"domain": [-2.78, 1.928], "nice": false, "zero": false},
                     "axis": {"orient": "right", "values": [-2.5, -2, -1.5, -1, -0.5, 0, 0.5, 1, 1.5], "labelExpr": "(datum.value < 0 ? '-' : '') + replace(format(abs(datum.value), '~g'), '0.', '.')", "title": "Percentage change in murders", "titleAngle": 270, "titleBaseline": "top", "domain": false, "tickSize": 4, "labelPadding": 2, "labelFontSize": 14, "titlePadding": 10, "labelFlush": false, "labelOverlap": false}},
               "y2": {"field": "hi"},
               "color": {"field": "lev", "type": "quantitative", "scale": {"domain": [-2.5, 1.5], "range": ["#f8f30f", "#800080"], "interpolate": "rgb"}, "legend": null}
             }}
          ]
        }
      ]
    }
  ]
}
